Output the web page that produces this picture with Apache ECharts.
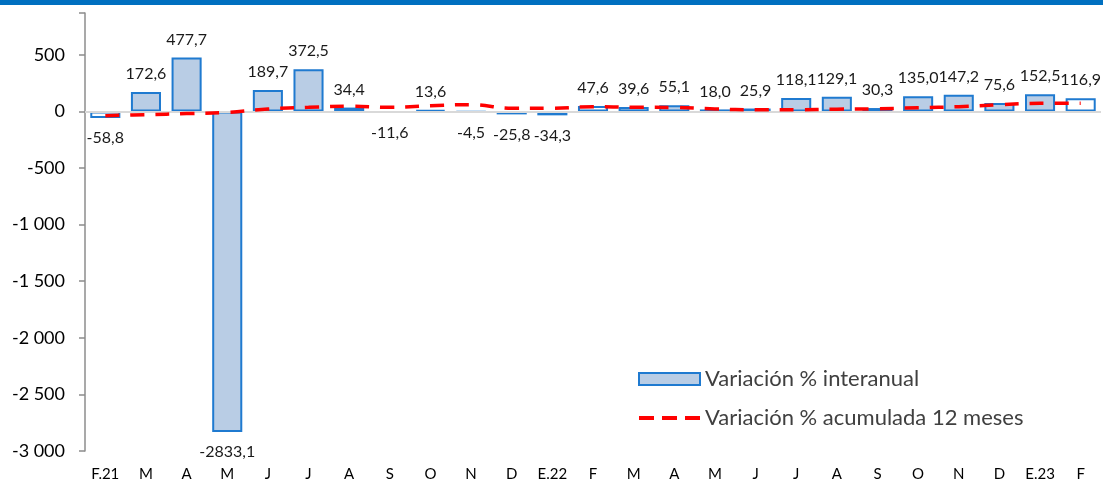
<!DOCTYPE html>
<html>
<head>
<meta charset="utf-8">
<script src="https://cdn.jsdelivr.net/npm/echarts@6/dist/echarts.min.js"></script>
<style>
html,body{margin:0;padding:0;background:#fff;}
#chart{width:1103px;height:482px;}
</style>
</head>
<body>
<div id="chart"></div>
<script>
var categories = ['F.21','M','A','M','J','J','A','S','O','N','D','E.22','F','M','A','M','J','J','A','S','O','N','D','E.23','F'];
var interanual = [-58.8,172.6,477.7,-2833.1,189.7,372.5,34.4,-11.6,13.6,-4.5,-25.8,-34.3,47.6,39.6,55.1,18.0,25.9,118.1,129.1,30.3,135.0,147.2,75.6,152.5,116.9];
var acumulada = [-37,-28,-19,-8,22,37,46,37,51,60,28,28,42,37,35,22,15,15,20,24,33,42,60,72,72];
var yTicks = [-3000,-2500,-2000,-1500,-1000,-500,0,500];
var seriesNames = ['Variación % interanual','Variación % acumulada 12 meses'];

var FONT = 'Lato';
function fmtComma(v){ return v.toFixed(1).replace('.', ','); }
function fmtAxis(v){
  var s = String(Math.abs(v));
  s = s.replace(/\B(?=(\d{3})+(?!\d))/g, ' ');
  return (v < 0 ? '-' : '') + s;
}

var barData = interanual.map(function(v, i){
  var item = {
    value: v,
    label: { position: v >= 0 ? 'top' : 'bottom', distance: v >= 0 ? 10 : 12 }
  };
  if (categories[i].charAt(0) === 'F') {
    item.itemStyle = { color: '#FFFFFF' };
  }
  return item;
});

var chart = echarts.init(document.getElementById('chart'), null, {renderer: 'canvas'});
chart.setOption({
  animation: false,
  textStyle: { fontFamily: FONT },
  graphic: [{
    type: 'rect', left: 0, top: 0, z: 100,
    shape: { x: 0, y: 0, width: 1103, height: 5 },
    style: { fill: '#0070C0' }
  }],
  grid: { left: 85, right: 2, top: 13, bottom: 30, containLabel: false },
  legend: {
    orient: 'vertical',
    left: 632, top: 362,
    itemWidth: 61, itemHeight: 12, itemGap: 15,
    textStyle: { fontFamily: FONT, fontSize: 22, lineHeight: 24, color: '#404040' },
    data: [
      { name: seriesNames[0], icon: 'rect' },
      { name: seriesNames[1], itemStyle: { opacity: 0 }, lineStyle: { type: [15, 8], width: 4 } }
    ]
  },
  xAxis: {
    type: 'category',
    data: categories,
    axisLine: { show: false },
    axisTick: { show: false },
    axisLabel: { fontFamily: FONT, fontSize: 15, color: '#000', margin: 16 }
  },
  yAxis: {
    type: 'value',
    min: -3000, max: 870, interval: 500,
    splitLine: { show: false },
    axisLine: { show: true, lineStyle: { color: '#8C8C8C', width: 1.5 } },
    axisTick: { show: true, length: 6, lineStyle: { color: '#8C8C8C', width: 1.5 } },
    axisLabel: {
      fontFamily: FONT, fontSize: 18, color: '#000', margin: 20,
      formatter: function(v){ return yTicks.indexOf(v) >= 0 ? fmtAxis(v) : ''; }
    }
  },
  series: [{
    name: seriesNames[0],
    type: 'bar',
    data: barData,
    barCategoryGap: '26%',
    z: 2,
    itemStyle: { color: '#B9CDE5', borderColor: '#1F7AD0', borderWidth: 2 },
    label: {
      show: true, fontFamily: FONT, fontSize: 16, color: '#1a1a1a',
      formatter: function(p){ return fmtComma(p.value); }
    },
    markLine: {
      silent: true, symbol: 'none', animation: false,
      label: { show: false },
      lineStyle: { color: '#D9D9D9', width: 2, type: 'solid' },
      data: [{ yAxis: 0 }]
    }
  }, {
    name: seriesNames[1],
    type: 'line',
    data: acumulada,
    smooth: 0.4,
    symbol: 'none',
    z: 5,
    lineStyle: { color: '#FF0000', width: 3.5, type: [14, 11] },
    itemStyle: { color: '#FF0000' }
  }]
});
</script>
</body>
</html>
